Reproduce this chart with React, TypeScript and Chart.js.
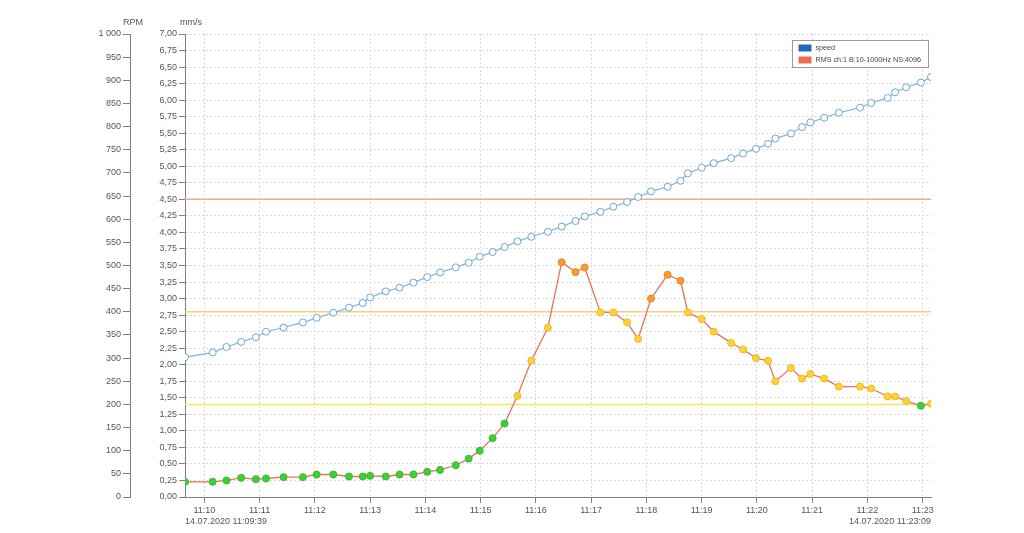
import React, { useEffect, useRef } from "react";
import { Chart, registerables } from "chart.js";

Chart.register(...registerables);

// ---- data ----
const TIMES = [
  "11:09:39", "11:10:09", "11:10:24", "11:10:40", "11:10:56", "11:11:07", "11:11:26", "11:11:47",
  "11:12:02", "11:12:20", "11:12:37", "11:12:52", "11:13:00", "11:13:17", "11:13:32", "11:13:47",
  "11:14:02", "11:14:16", "11:14:33", "11:14:47", "11:14:59", "11:15:13", "11:15:26", "11:15:40",
  "11:15:55", "11:16:13", "11:16:28", "11:16:43", "11:16:53", "11:17:10", "11:17:24", "11:17:39",
  "11:17:51", "11:18:05", "11:18:23", "11:18:37", "11:18:45", "11:19:00", "11:19:13", "11:19:32",
  "11:19:45", "11:19:59", "11:20:12", "11:20:20", "11:20:37", "11:20:49", "11:20:58", "11:21:13",
  "11:21:29", "11:21:52", "11:22:04", "11:22:22", "11:22:30", "11:22:42", "11:22:58", "11:23:09",
];

const SPEED_RPM = [
  302, 312, 324, 335, 345, 357, 366, 377, 387, 398, 409, 419, 431, 444, 452, 463,
  475, 485, 496, 506, 519, 529, 540, 552, 562, 573, 584, 596, 606, 616, 627, 637,
  648, 660, 670, 683, 699, 711, 721, 732, 742, 752, 763, 774, 785, 799, 809, 819,
  830, 841, 851, 862, 874, 885, 895, 907,
];

const RMS_MMS = [
  0.23, 0.23, 0.25, 0.29, 0.27, 0.28, 0.3, 0.3, 0.34, 0.34, 0.31, 0.31, 0.32, 0.31, 0.34, 0.34,
  0.38, 0.41, 0.48, 0.58, 0.7, 0.89, 1.11, 1.53, 2.06, 2.56, 3.55, 3.4, 3.47, 2.79, 2.79, 2.64,
  2.39, 3.0, 3.36, 3.27, 2.79, 2.69, 2.5, 2.33, 2.23, 2.1, 2.06, 1.75, 1.95, 1.79, 1.86, 1.79,
  1.67, 1.67, 1.64, 1.52, 1.52, 1.45, 1.38, 1.41,
];

const THRESHOLDS = [1.4, 2.8, 4.5];

const X_TICKS = [
  "11:10", "11:11", "11:12", "11:13", "11:14", "11:15", "11:16",
  "11:17", "11:18", "11:19", "11:20", "11:21", "11:22", "11:23",
];

const DATE = "14.07.2020";
const SPEED_LABEL = "speed";
const RMS_LABEL = "RMS ch:1 B:10-1000Hz NS:4096";

// ---- styles ----
const FONT = "'Liberation Sans', Arial, sans-serif";
const THRESHOLD_COLORS = ["#f2e65a", "#f5d079", "#f2a78e"];
const TEXT = "#555";
const AXIS = "#808080";
const GRID = "#dcdcdc";

const toSec = (t: string) => {
  const p = t.split(":").map(Number);
  return p[0] * 3600 + p[1] * 60 + (p[2] || 0);
};
const pad2 = (n: number) => (n < 10 ? "0" + n : "" + n);
const fmtHM = (s: number) => `${Math.floor(s / 3600)}:${pad2(Math.floor((s % 3600) / 60))}`;

const X_MIN = toSec(TIMES[0]);
const X_MAX = toSec(TIMES[TIMES.length - 1]);

const rmsColor = (v: number) => (v < 1.4 ? "#3fcf36" : v <= 2.8 ? "#fdd332" : "#f99a2c");
const rmsBorder = (v: number) => (v < 1.4 ? "#36b82e" : v <= 2.8 ? "#f0b72a" : "#ea8421");

const overlayPlugin = {
  id: "overlay",
  afterDraw(chart: any) {
    const { ctx, chartArea } = chart;
    const rpm = chart.scales.rpm;
    const mms = chart.scales.mms;
    ctx.save();
    ctx.font = `9px ${FONT}`;
    ctx.fillStyle = TEXT;
    ctx.textBaseline = "middle";
    ctx.textAlign = "center";
    ctx.fillText("RPM", rpm.right + 3, 23);
    ctx.fillText("mm/s", mms.right + 6, 23);
    // date labels
    ctx.textAlign = "left";
    ctx.fillText(`${DATE} ${TIMES[0]}`, chartArea.left, 522);
    ctx.textAlign = "right";
    ctx.fillText(`${DATE} ${TIMES[TIMES.length - 1]}`, chartArea.right, 522);
    // legend
    const lx = chartArea.right - 138.5;
    const ly = 40.5;
    const lw = 136;
    const lh = 27;
    ctx.fillStyle = "#ffffff";
    ctx.fillRect(lx, ly, lw, lh);
    ctx.strokeStyle = "#9a9a9a";
    ctx.lineWidth = 1;
    ctx.strokeRect(lx, ly, lw, lh);
    ctx.fillStyle = "#2068b8";
    ctx.fillRect(lx + 6, ly + 4, 13, 7);
    ctx.fillStyle = "#e8704f";
    ctx.fillRect(lx + 6, ly + 16, 13, 7);
    ctx.fillStyle = "#444";
    ctx.font = `7.2px ${FONT}`;
    ctx.textAlign = "left";
    ctx.fillText(SPEED_LABEL, lx + 23, ly + 8);
    ctx.fillText(RMS_LABEL, lx + 23, ly + 20);
    ctx.restore();
  },
};

export default function App() {
  const ref = useRef<HTMLCanvasElement | null>(null);

  useEffect(() => {
    if (!ref.current) return;
    const thresholdSets = THRESHOLDS.map((v, i) => ({
      type: "line" as const,
      data: [
        { x: X_MIN, y: v },
        { x: X_MAX, y: v },
      ],
      yAxisID: "mms",
      borderColor: THRESHOLD_COLORS[i],
      borderWidth: 1.5,
      pointRadius: 0,
      order: 3,
    }));

    const chart = new Chart(ref.current, {
      type: "line",
      data: {
        datasets: [
          ...thresholdSets,
          {
            label: RMS_LABEL,
            data: TIMES.map((t, i) => ({ x: toSec(t), y: RMS_MMS[i] })),
            yAxisID: "mms",
            borderColor: "#e8735c",
            borderWidth: 1.3,
            pointRadius: 3.5,
            pointBorderWidth: 1,
            pointBackgroundColor: (c: any) => rmsColor(c.raw?.y ?? 0),
            pointBorderColor: (c: any) => rmsBorder(c.raw?.y ?? 0),
            tension: 0,
            order: 2,
          },
          {
            label: SPEED_LABEL,
            data: TIMES.map((t, i) => ({ x: toSec(t), y: SPEED_RPM[i] })),
            yAxisID: "rpm",
            borderColor: "#7db4dc",
            borderWidth: 1.2,
            pointRadius: 3.5,
            pointBorderWidth: 1,
            pointBackgroundColor: "#ffffff",
            pointBorderColor: "#6aa6d4",
            tension: 0,
            order: 1,
          },
        ],
      },
      options: {
        animation: false,
        responsive: true,
        maintainAspectRatio: false,
        layout: { padding: { top: 34, right: 93, bottom: 0, left: 0 } },
        plugins: { legend: { display: false }, tooltip: { enabled: false } },
        scales: {
          x: {
            type: "linear",
            min: X_MIN,
            max: X_MAX,
            afterBuildTicks: (scale: any) => {
              scale.ticks = X_TICKS.map((t) => ({ value: toSec(t) }));
            },
            afterFit: (scale: any) => {
              scale.height = 36;
            },
            ticks: {
              autoSkip: false,
              maxRotation: 0,
              padding: 2,
              color: TEXT,
              font: { family: FONT, size: 9 },
              callback: (v: any) => fmtHM(Number(v)),
            },
            grid: {
              color: GRID,
              tickColor: AXIS,
              tickLength: 6,
              tickBorderDash: [],
            },
            border: { color: AXIS, width: 1, dash: [2, 2] },
          },
          mms: {
            type: "linear",
            position: "left",
            weight: 0,
            min: 0,
            max: 7,
            afterFit: (scale: any) => {
              scale.width = 55;
            },
            ticks: {
              stepSize: 0.25,
              autoSkip: false,
              maxTicksLimit: 100,
              padding: 2,
              color: TEXT,
              font: { family: FONT, size: 9 },
              callback: (v: any) => Number(v).toFixed(2).replace(".", ","),
            },
            grid: {
              color: GRID,
              tickColor: AXIS,
              tickLength: 6,
              tickBorderDash: [],
            },
            border: { color: AXIS, width: 1, dash: [2, 2] },
          },
          rpm: {
            type: "linear",
            position: "left",
            weight: 1,
            min: 0,
            max: 1000,
            afterFit: (scale: any) => {
              scale.width = 130;
            },
            ticks: {
              stepSize: 50,
              autoSkip: false,
              maxTicksLimit: 100,
              padding: 2,
              color: TEXT,
              font: { family: FONT, size: 9 },
              callback: (v: any) => String(v).replace(/\B(?=(\d{3})+(?!\d))/g, " "),
            },
            grid: {
              drawOnChartArea: false,
              tickColor: AXIS,
              tickLength: 7,
            },
            border: { color: AXIS, width: 1 },
          },
        },
      } as any,
      plugins: [overlayPlugin],
    });
    return () => chart.destroy();
  }, []);

  return (
    <div
      style={{
        position: "fixed",
        left: 0,
        top: 0,
        width: "1024px",
        height: "533px",
        background: "#ffffff",
      }}
    >
      <canvas ref={ref} />
    </div>
  );
}
